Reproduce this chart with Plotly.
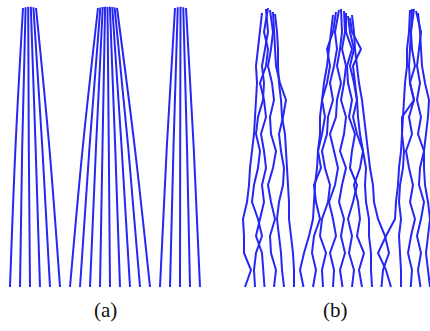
import plotly.graph_objects as go

# ---------------- Panel (a): smooth bundles ----------------
a_bottom_x = [10, 20, 30, 40, 50, 60,
              70, 80, 90, 100, 110, 120, 130, 140, 150,
              160, 170, 180, 190, 200]
a_mid_x = [15.5, 22.2, 28.8, 35.6, 42.3, 49.3,
           82.8, 89.5, 96.0, 102.5, 108.8, 115.2, 121.6, 128.2, 134.7,
           166.8, 173.5, 180.2, 187.0, 193.7]
a_top_x = [23, 25.6, 28.2, 30.8, 33.4, 36,
           98, 100.4, 102.75, 105.1, 107.5, 109.9, 112.25, 114.6, 117,
           175, 177.75, 180.5, 183.25, 186]
a_top_y = [8, 7.2, 6.8, 6.8, 7.2, 8,
           8, 7.4, 7, 6.8, 6.7, 6.8, 7, 7.4, 8,
           8, 7.2, 6.8, 7.2, 8]
a_levels_y = [287, 147]

# ---------------- Panel (b): perturbed bundles ----------------
b_levels_y = [287, 270, 253, 236, 219, 202, 185, 168, 151, 134, 117, 100, 83, 66, 49, 32]
b_top_y = [13, 9, 8, 10, 12, 14,
           15, 12, 10, 9, 11, 13, 16, 18, 15,
           10, 9, 9, 11, 13]
b_lines_x = [
    [245, 251, 244, 244, 243, 247, 249, 250, 252, 254, 255, 256, 257, 256, 258, 260, 262],
    [255, 254, 256, 262, 258, 252, 254, 258, 260, 256, 258, 263, 264, 262, 265, 268, 266],
    [264.5, 263, 262, 256, 260, 264, 262, 266, 264, 261, 266, 264, 260, 266, 268, 264, 268],
    [274, 276, 271, 270, 275, 271, 268, 273, 276, 271, 270, 274, 272, 268, 271, 273, 270],
    [284, 282, 281, 279, 277, 279, 283, 284, 281, 279, 283, 286, 280, 276, 275, 274, 273],
    [294, 294, 293, 291, 289, 289, 288, 287, 286, 285, 282, 281, 279, 278, 278, 277, 275],
    [303.5, 300, 304, 309, 313, 314, 315, 317, 318, 320, 320, 322, 324, 327, 329, 331, 333],
    [313, 316, 312, 314, 320, 316, 314, 321, 318, 322, 325, 322, 327, 330, 327, 333, 336],
    [323, 322, 326, 320, 322, 328, 330, 325, 322, 327, 328, 333, 330, 334, 337, 335, 339],
    [333, 334, 330, 336, 333, 329, 335, 338, 334, 330, 336, 337, 341, 337, 340, 342, 341],
    [342.5, 340, 345, 341, 344, 339, 342, 346, 340, 344, 346, 341, 344, 346, 342, 345, 344],
    [352, 354, 349, 352, 348, 353, 357, 350, 352, 355, 349, 352, 348, 347, 352, 346, 346],
    [362, 359, 364, 357, 360, 358, 354, 360, 363, 357, 353, 357, 354, 350, 354, 350, 348],
    [372, 371, 371, 369, 369, 366, 365, 366, 363, 360, 358, 357, 355, 353, 361, 352, 350],
    [381.5, 383, 389, 385, 378, 374, 373, 370, 368, 366, 364, 362, 359, 357, 355, 354, 352],
    [391, 386, 378, 386, 395, 396, 398, 399, 401, 402, 403, 404, 405, 407, 407, 409, 410],
    [401, 401, 400, 399, 401, 399, 400, 403, 404, 402, 402, 414, 410, 409, 410, 411, 412],
    [410.75, 412, 408, 411, 415, 410, 413, 409, 406, 412, 409, 414, 410, 415, 412, 411, 414],
    [420.5, 418, 421, 417, 421, 424, 419, 420, 424, 418, 421, 417, 420, 417, 419, 421, 416],
    [430, 428, 426, 428, 430, 428, 425, 424, 424, 426, 428, 429, 425, 422, 421, 420, 418],
]

labels = ["(a)", "(b)"]
label_x = [105, 335]
label_y = [310, 310]

LINE_COLOR = "rgb(38,38,245)"

fig = go.Figure()

for i in range(len(a_bottom_x)):
    fig.add_trace(go.Scatter(
        x=[a_bottom_x[i], a_mid_x[i], a_top_x[i]],
        y=[a_levels_y[0], a_levels_y[1], a_top_y[i]],
        mode="lines",
        line=dict(color=LINE_COLOR, width=2, shape="spline", smoothing=1.0),
        hoverinfo="skip", showlegend=False,
    ))

for xs, ty in zip(b_lines_x, b_top_y):
    fig.add_trace(go.Scatter(
        x=xs, y=b_levels_y + [ty],
        mode="lines",
        line=dict(color=LINE_COLOR, width=2),
        hoverinfo="skip", showlegend=False,
    ))

for t, x, y in zip(labels, label_x, label_y):
    fig.add_annotation(x=x, y=y, text=t, showarrow=False,
                       font=dict(family="Liberation Serif", size=21, color="#111"),
                       xanchor="center", yanchor="middle")

fig.update_layout(
    width=430, height=331,
    margin=dict(l=0, r=0, t=0, b=0),
    paper_bgcolor="white", plot_bgcolor="white",
    xaxis=dict(range=[0, 430], visible=False, fixedrange=True),
    yaxis=dict(range=[331, 0], visible=False, fixedrange=True),
)

fig.write_html("out.html", config={"displayModeBar": False},
               post_script="document.body.style.margin='0px';document.body.style.padding='0px';")
